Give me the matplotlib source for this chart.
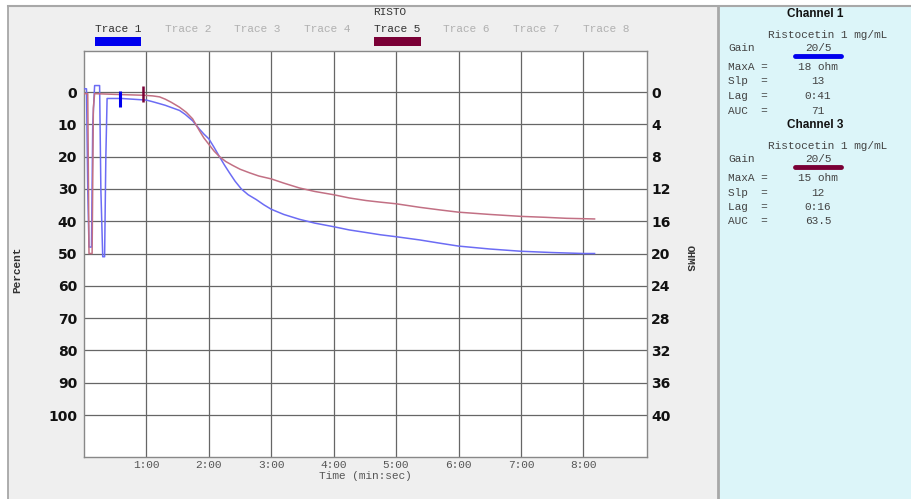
import matplotlib
matplotlib.use('Agg')
import matplotlib.pyplot as plt
from matplotlib.patches import Rectangle
from matplotlib.lines import Line2D

# trace data (time in minutes, value in percent)
t1_time = [0.0, 0.04, 0.06, 0.08, 0.12, 0.14, 0.17, 0.25, 0.27, 0.30, 0.33, 0.35, 0.37, 0.6, 1.0,
           1.1, 1.21, 1.3, 1.4, 1.53, 1.62, 1.74, 1.85, 1.92, 2.0, 2.08, 2.17, 2.25, 2.33, 2.42,
           2.52, 2.63, 2.76, 2.88, 3.0, 3.2, 3.45, 3.7, 4.0, 4.25, 4.52, 4.75, 5.0, 5.38, 5.7,
           6.0, 6.5, 7.0, 7.5, 8.0, 8.18]
t1_pct = [-1, -1, 30, 48, 48, 10, -2, -2, 30, 51, 51, 20, 2, 2, 2.5,
          3.0, 3.6, 4.1, 4.8, 5.7, 6.9, 8.9, 11.5, 13.0, 14.5, 17.0, 20, 22.6, 25, 27.6,
          30, 31.8, 33.3, 34.9, 36.3, 37.9, 39.4, 40.6, 41.7, 42.7, 43.5, 44.2, 44.8, 45.8, 46.8,
          47.7, 48.6, 49.3, 49.7, 50, 50]

t5_time = [0.0, 0.06, 0.08, 0.13, 0.15, 0.17, 0.6, 0.95, 1.1, 1.21, 1.3, 1.4, 1.53, 1.64,
           1.74, 1.85, 1.92, 2.0, 2.08, 2.17, 2.27, 2.38, 2.5, 2.65, 2.8, 3.0, 3.2, 3.45, 3.7,
           4.0, 4.25, 4.52, 4.75, 5.0, 5.38, 5.7, 6.0, 6.5, 7.0, 7.4, 7.73, 8.18]
t5_pct = [0.5, 0.5, 50, 50, 5, 0.5, 0.8, 1.0, 1.2, 1.5, 2.2, 3.2, 4.7, 6.3,
          8.3, 12.0, 14.2, 16.2, 18.2, 20, 21.5, 22.7, 23.9, 25, 26.0, 26.9, 28.2, 29.7, 30.8,
          31.8, 32.8, 33.6, 34.1, 34.6, 35.7, 36.5, 37.2, 37.9, 38.5, 38.8, 39.1, 39.3]

# start markers (time, top, bottom)
mark1 = (0.57, -0.3, 4.7)
mark5 = (0.95, -2.0, 3.0)

trace_names = ['Trace 1', 'Trace 2', 'Trace 3', 'Trace 4', 'Trace 5', 'Trace 6', 'Trace 7', 'Trace 8']
trace_active = [True, False, False, False, True, False, False, False]
time_ticks = [1, 2, 3, 4, 5, 6, 7, 8]
time_labels = ['1:00', '2:00', '3:00', '4:00', '5:00', '6:00', '7:00', '8:00']
pct_ticks = [0, 10, 20, 30, 40, 50, 60, 70, 80, 90, 100]
ohm_ticks = [0, 4, 8, 12, 16, 20, 24, 28, 32, 36, 40]

channels = ['Channel 1', 'Channel 3']
agonist = ['Ristocetin 1 mg/mL', 'Ristocetin 1 mg/mL']
gain = ['20/5', '20/5']
max_a = ['18 ohm', '15 ohm']
slope = ['13', '12']
lag = ['0:41', '0:16']
auc = ['71', '63.5']

W, H = 912, 499
BLUE_LINE = '#6c6cf4'
RED_LINE = '#c27084'
BLUE = '#0000ee'
MAROON = '#7a0036'
MONO = 'Liberation Mono'


def fx(px):
    return px / W


def fy(py):
    return 1 - py / H


fig = plt.figure(figsize=(W / 100, H / 100), dpi=100, facecolor='white')

# background panels
fig.patches.append(Rectangle((fx(8), 0), fx(710), fy(6), transform=fig.transFigure,
                             facecolor='#efefef', edgecolor='none', zorder=-5))
fig.patches.append(Rectangle((fx(719), 0), fx(193), fy(5), transform=fig.transFigure,
                             facecolor='#dcf5f9', edgecolor='none', zorder=-5))
fig.lines.append(Line2D([fx(8), fx(8)], [0, fy(6)], transform=fig.transFigure, color='#a0a0a0', lw=1.2))
fig.lines.append(Line2D([fx(8), fx(912)], [fy(5.5), fy(5.5)], transform=fig.transFigure, color='#a8a8a8', lw=1.5))
fig.lines.append(Line2D([fx(718), fx(718)], [0, fy(6)], transform=fig.transFigure, color='#a8a8a8', lw=2))

ax = fig.add_axes([fx(84), 1 - 457 / H, fx(647 - 84), (457 - 51) / H])
ax.set_facecolor('white')
ax.plot(t1_time, t1_pct, color=BLUE_LINE, lw=1.1, zorder=3)
ax.plot(t5_time, t5_pct, color=RED_LINE, lw=1.1, zorder=3)
ax.vlines(mark1[0], mark1[1], mark1[2], color=BLUE, lw=2.2, zorder=4)
ax.vlines(mark5[0], mark5[1], mark5[2], color=MAROON, lw=1.8, zorder=4)

ax.set_xlim(0, 9.02)
ax.set_ylim(113, -12.7)
ax.set_xticks(time_ticks)
ax.set_xticklabels(time_labels, family=MONO, fontsize=8, color='#555555')
ax.set_yticks(pct_ticks)
ax.set_yticklabels([str(v) for v in pct_ticks], fontsize=10, fontweight='bold', color='#111111')
ax.tick_params(axis='both', length=0)
ax.tick_params(axis='x', pad=2)
ax.tick_params(axis='y', pad=5)
ax.grid(True, color='#666666', lw=0.9)
for s in ax.spines.values():
    s.set_color('#888888')
    s.set_linewidth(1.0)
ax.set_xlabel('Time (min:sec)', family=MONO, fontsize=8, color='#555555', labelpad=1)

ax2 = ax.twinx()
ax2.set_ylim(113 * 0.4, -12.7 * 0.4)
ax2.set_yticks(ohm_ticks)
ax2.set_yticklabels([str(v) for v in ohm_ticks], fontsize=10, fontweight='bold', color='#111111')
ax2.tick_params(axis='y', length=0, pad=3)
for s in ax2.spines.values():
    s.set_visible(False)

fig.text(fx(17), fy(270), 'Percent', rotation=90, family=MONO, fontsize=8, fontweight='bold',
         color='#333333', ha='center', va='center')
fig.text(fx(690), fy(258), 'OHMS', rotation=-90, family=MONO, fontsize=8, fontweight='bold',
         color='#333333', ha='center', va='center')

# header
fig.text(fx(390), fy(12), 'RISTO', family=MONO, fontsize=8, color='#333333', ha='center', va='center')
for i, (name, on) in enumerate(zip(trace_names, trace_active)):
    cx = 118 + i * 69.7
    fig.text(fx(cx), fy(29), name, family=MONO, fontsize=8, ha='center', va='center',
             color='#333333' if on else '#b0b0b0')
fig.patches.append(Rectangle((fx(95), fy(46)), fx(46), 9 / H, transform=fig.transFigure,
                             facecolor=BLUE, edgecolor='none'))
fig.patches.append(Rectangle((fx(374), fy(46)), fx(47), 9 / H, transform=fig.transFigure,
                             facecolor=MAROON, edgecolor='none'))

# channel summary panel
bar_colors = [BLUE, MAROON]
for k in range(2):
    y0 = 14 + k * 111
    fig.text(fx(815), fy(y0), channels[k], family='Liberation Sans', fontsize=8.5, fontweight='bold',
             color='#111111', ha='center', va='center')
    fig.text(fx(828), fy(y0 + 21), agonist[k], family=MONO, fontsize=8, color='#444444',
             ha='center', va='center')
    fig.text(fx(728), fy(y0 + 34), 'Gain', family=MONO, fontsize=8, color='#444444', va='center')
    fig.text(fx(818), fy(y0 + 34), gain[k], family=MONO, fontsize=8, color='#444444',
             ha='center', va='center')
    fig.lines.append(Line2D([fx(795), fx(841)], [fy(y0 + 41.5), fy(y0 + 41.5)], transform=fig.transFigure,
                            color=bar_colors[k], lw=3.5, solid_capstyle='round'))
    rows = [('MaxA =', max_a[k]), ('Slp  =', slope[k]), ('Lag  =', lag[k]), ('AUC  =', auc[k])]
    for j, (lab, val) in enumerate(rows):
        yy = y0 + 53 + j * 14.5
        fig.text(fx(728), fy(yy), lab, family=MONO, fontsize=8, color='#444444', va='center')
        fig.text(fx(818), fy(yy), val, family=MONO, fontsize=8, color='#444444', ha='center', va='center')

fig.savefig('out.png', dpi=100, facecolor=fig.get_facecolor())
